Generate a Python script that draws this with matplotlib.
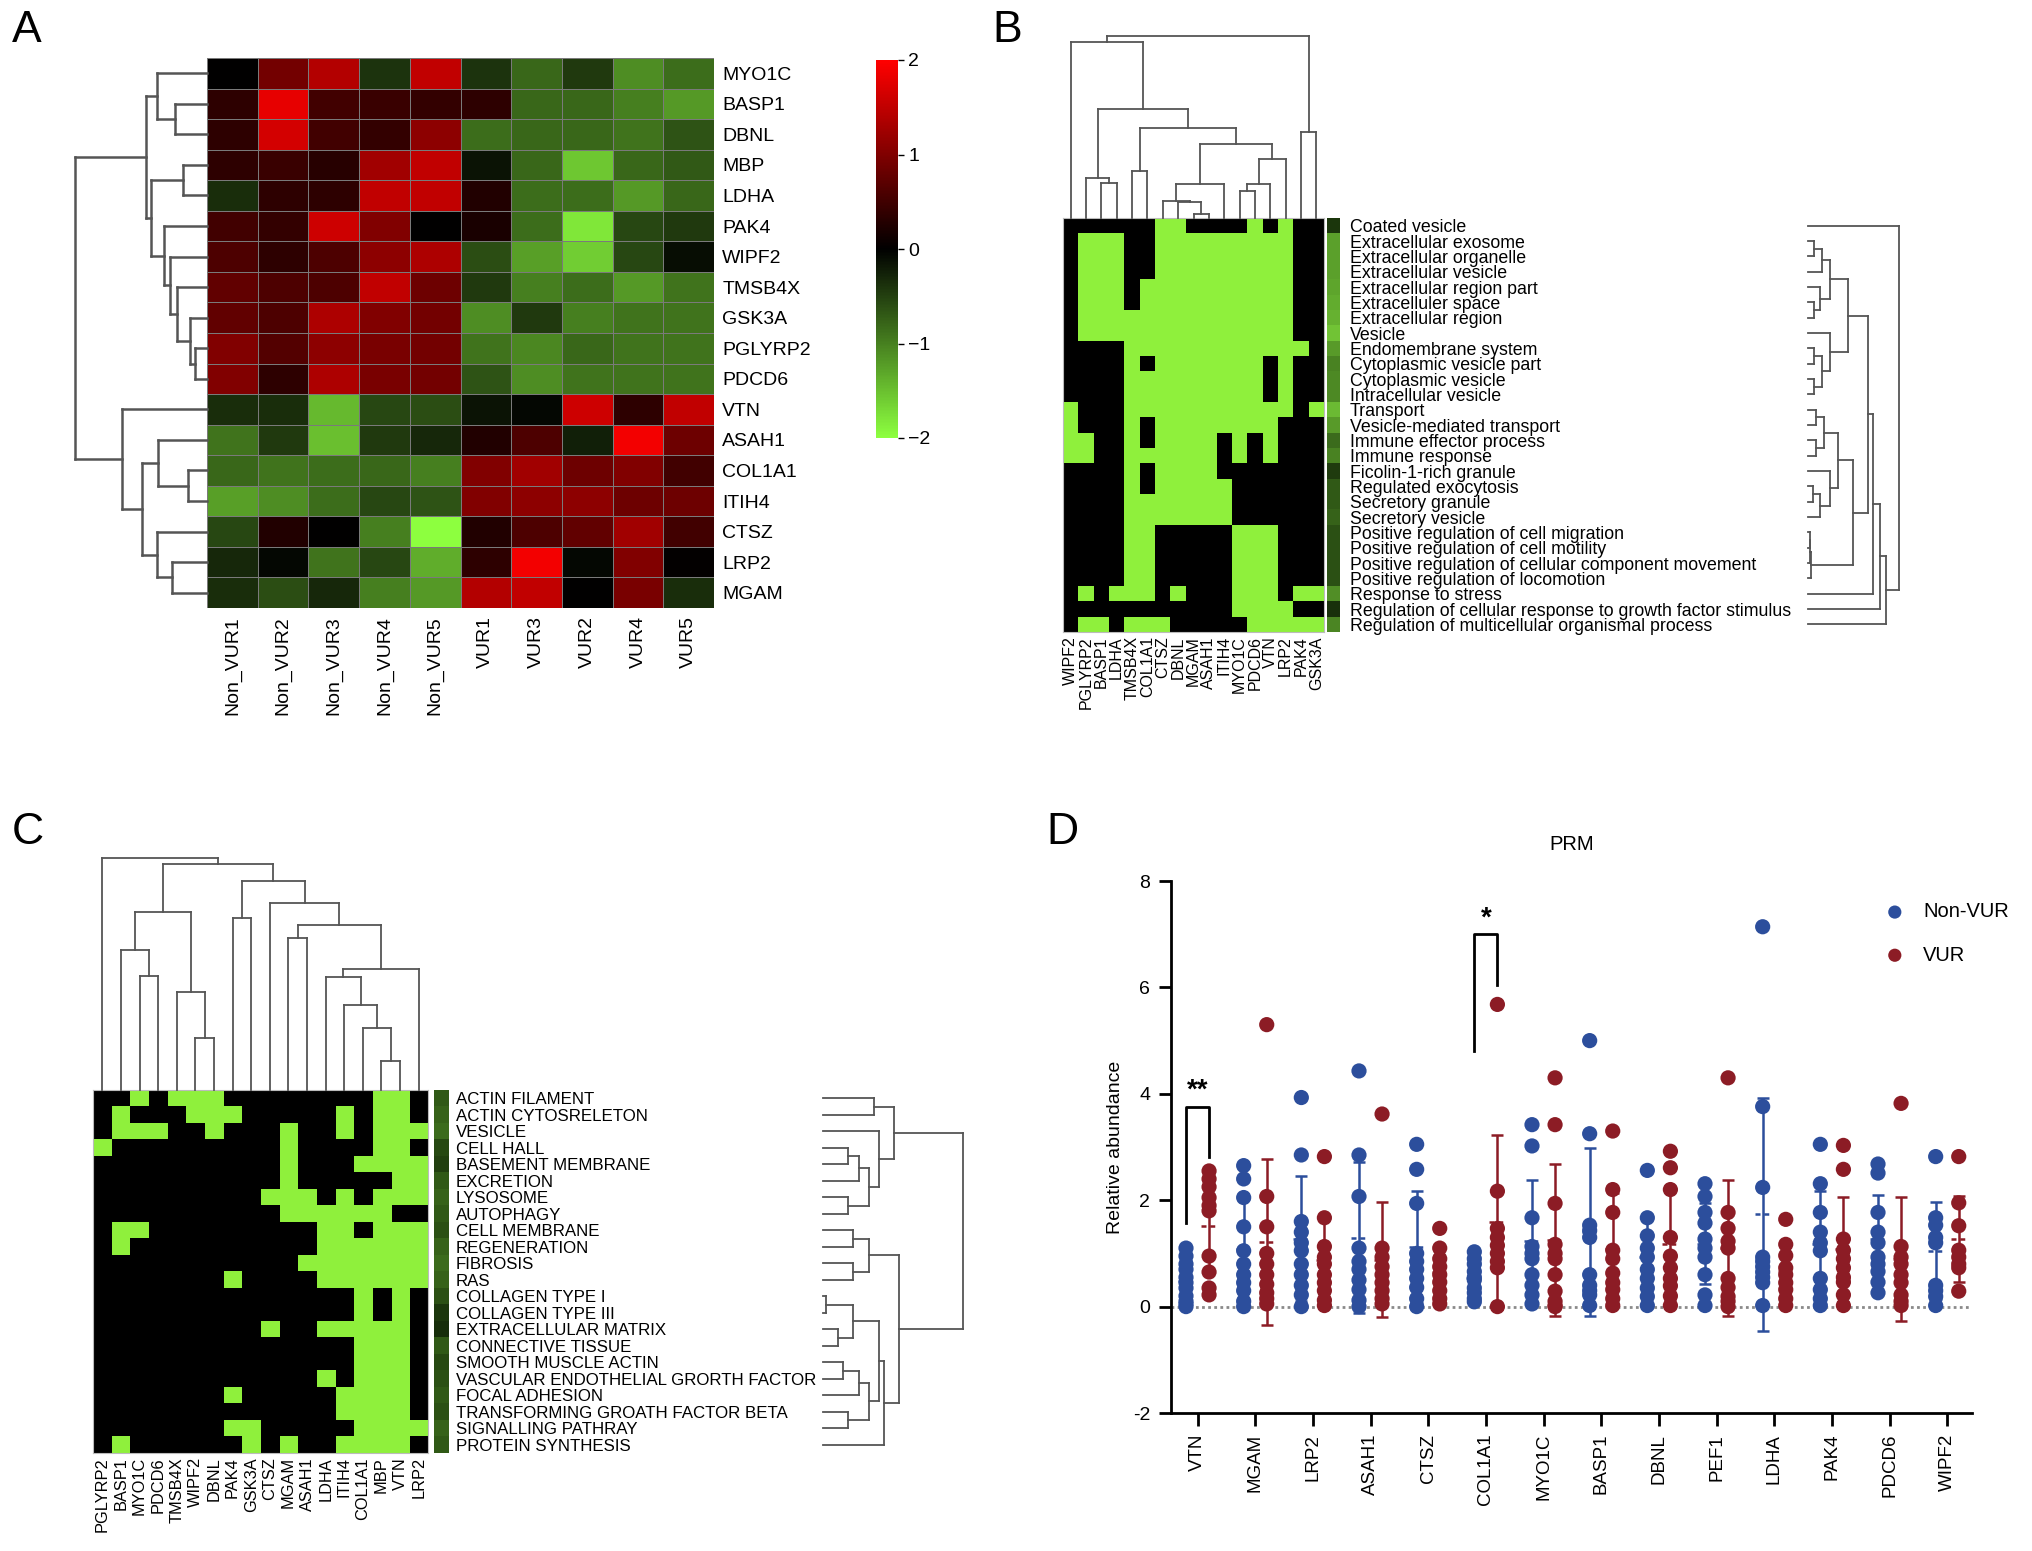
"""Four-panel figure: expression heatmap, two gene/term binary maps, and PRM dot plot."""
import numpy as np
import matplotlib
matplotlib.use("Agg")
import matplotlib.pyplot as plt
from matplotlib.colors import LinearSegmentedColormap, ListedColormap

plt.rcParams["font.family"] = ["Liberation Sans", "DejaVu Sans"]

W, H = 2032, 1551

# ---------------- panel A data ----------------
a_genes = ["MYO1C", "BASP1", "DBNL", "MBP", "LDHA", "PAK4", "WIPF2", "TMSB4X", "GSK3A",
           "PGLYRP2", "PDCD6", "VTN", "ASAH1", "COL1A1", "ITIH4", "CTSZ", "LRP2", "MGAM"]
a_samples = ["Non_VUR1", "Non_VUR2", "Non_VUR3", "Non_VUR4", "Non_VUR5",
             "VUR1", "VUR3", "VUR2", "VUR4", "VUR5"]
a_values = [
    [0.0, 0.9, 1.4, -0.4, 1.5, -0.4, -0.8, -0.45, -1.1, -0.85],
    [0.35, 1.8, 0.5, 0.45, 0.4, 0.35, -0.8, -0.8, -1.0, -1.2],
    [0.35, 1.65, 0.5, 0.4, 1.1, -0.85, -0.8, -0.8, -0.9, -0.65],
    [0.35, 0.45, 0.3, 1.25, 1.5, -0.15, -0.8, -1.55, -0.8, -0.7],
    [-0.35, 0.35, 0.35, 1.5, 1.5, 0.25, -0.85, -0.85, -1.2, -0.8],
    [0.5, 0.4, 1.6, 1.0, 0.0, 0.2, -0.85, -1.8, -0.55, -0.45],
    [0.6, 0.35, 0.6, 1.1, 1.35, -0.6, -1.25, -1.6, -0.55, -0.1],
    [0.75, 0.6, 0.6, 1.5, 0.85, -0.45, -1.0, -0.85, -1.2, -0.9],
    [0.75, 0.6, 1.35, 1.0, 0.9, -1.1, -0.45, -1.0, -0.9, -0.9],
    [1.0, 0.65, 1.1, 0.95, 0.9, -0.9, -1.05, -0.8, -0.9, -0.9],
    [1.0, 0.35, 1.35, 0.95, 0.9, -0.65, -1.1, -0.9, -0.9, -0.9],
    [-0.35, -0.35, -1.45, -0.55, -0.6, -0.15, -0.05, 1.6, 0.35, 1.5],
    [-0.9, -0.45, -1.5, -0.45, -0.3, 0.25, 0.6, -0.25, 1.9, 0.85],
    [-0.8, -0.9, -0.85, -0.8, -1.0, 1.0, 1.25, 0.85, 1.0, 0.5],
    [-1.25, -1.1, -0.85, -0.55, -0.65, 1.0, 1.1, 1.1, 0.85, 0.85],
    [-0.55, 0.25, 0.0, -1.0, -2.0, 0.25, 0.6, 0.75, 1.25, 0.5],
    [-0.3, -0.05, -0.9, -0.55, -1.35, 0.35, 1.9, -0.05, 1.0, 0.02],
    [-0.35, -0.6, -0.3, -1.0, -1.2, 1.4, 1.5, 0.0, 0.95, -0.35],
]
# row dendrogram: (left, right, merge height)
a_tree = (
    ((0, (1, 2, 75), 115),
     ((3, 4, 55), (5, (6, (7, (8, (9, 10, 27), 40), 70), 85), 100), 130), 140),
    (11, ((12, (13, 14, 45), 113), (15, (16, 17, 80), 115), 150), 197),
    305)

# ---------------- panel B data ----------------
b_genes = ["WIPF2", "PGLYRP2", "BASP1", "LDHA", "TMSB4X", "COL1A1", "CTSZ", "DBNL", "MGAM",
           "ASAH1", "ITIH4", "MYO1C", "PDCD6", "VTN", "LRP2", "PAK4", "GSK3A"]
b_terms = ["Coated vesicle", "Extracellular exosome", "Extracellular organelle",
           "Extracellular vesicle", "Extracellular region part", "Extracelluler space",
           "Extracellular region", "Vesicle", "Endomembrane system", "Cytoplasmic vesicle part",
           "Cytoplasmic vesicle", "Intracellular vesicle", "Transport", "Vesicle-mediated transport",
           "Immune effector process", "Immune response", "Ficolin-1-rich granule",
           "Regulated exocytosis", "Secretory granule", "Secretory vesicle",
           "Positive regulation of cell migration", "Positive regulation of cell motility",
           "Positive regulation of cellular component movement", "Positive regulation of locomotion",
           "Response to stress", "Regulation of cellular response to growth factor stimulus",
           "Regulation of multicellular organismal process"]
# K = black (absent), G = green (present)
b_matrix = [
    "KKKKKKGGKKKKGKGKK", "KGGGKKGGGGGGGGGKK", "KGGGKKGGGGGGGGGKK", "KGGGKKGGGGGGGGGKK",
    "KGGGKGGGGGGGGGGKK", "KGGGKGGGGGGGGGGKK", "KGGGGGGGGGGGGGGKK", "KGGGGGGGGGGGGGGKK",
    "KKKKGGGGGGGGGGGGK", "KKKKGKGGGGGGGKGKK", "KKKKGGGGGGGGGKGKK", "KKKKGGGGGGGGGKGKK",
    "GKKKGGGGGGGGGGGKG", "GKKKGKGGGGGGGGKKK", "GGKKGKGGGGKGKGKKK", "GGKKGGGGGGKGKGKKK",
    "KKKKGKGGGGKKKKKKK", "KKKKGKGGGGGKKKKKK", "KKKKGGGGGGGKKKKKK", "KKKKGGGGGGGKKKKKK",
    "KKKKGGKKKKKGGGKKK", "KKKKGGKKKKKGGGKKK", "KKKKGGKKKKKGGGKKK", "KKKKGGKKKKKGGGKKK",
    "KGKGGGKGKKKGGGKGG", "KKKKKKKKKKKGGGGKK", "KGGKGGGKKKKKGGGGG",
]
b_annot = [0.15, 0.75, 0.75, 0.75, 0.78, 0.82, 0.85, 0.95, 0.72, 0.58, 0.62, 0.62, 0.9, 0.72,
           0.45, 0.58, 0.18, 0.35, 0.35, 0.4, 0.3, 0.3, 0.3, 0.3, 0.65, 0.12, 0.6]
b_col_tree = (
    (0, ((1, (2, 3, 103), 120),
         ((4, 5, 140),
          (((6, (7, (8, 9, 12), 48), 50), 10, 100), (((11, 12, 80), 13, 102), 14, 175), 220),
          268), 325), 525),
    (15, 16, 255),
    542)
b_ext = ((((1, 2, 6), 3, 14), (4, (5, 6, 6), 12), 22), (7, ((8, 9, 6), (10, 11, 6), 14), 22), 40)
b_sec = ((((12, 13, 8), (14, 15, 8), 16), (16, ((17, 18, 5), 19, 12), 22), 30),
         (((20, 21, 2), 22, 2), 23, 3), 45)
b_row_tree = (0, ((((b_ext, b_sec, 60), 24, 65), 25, 72), 26, 78), 91)

# ---------------- panel C data ----------------
c_genes = ["PGLYRP2", "BASP1", "MYO1C", "PDCD6", "TMSB4X", "WIPF2", "DBNL", "PAK4", "GSK3A",
           "CTSZ", "MGAM", "ASAH1", "LDHA", "ITIH4", "COL1A1", "MBP", "VTN", "LRP2"]
c_terms = ["ACTIN FILAMENT", "ACTIN CYTOSRELETON", "VESICLE", "CELL HALL", "BASEMENT MEMBRANE",
           "EXCRETION", "LYSOSOME", "AUTOPHAGY", "CELL MEMBRANE", "REGENERATION", "FIBROSIS", "RAS",
           "COLLAGEN TYPE I", "COLLAGEN TYPE III", "EXTRACELLULAR MATRIX", "CONNECTIVE TISSUE",
           "SMOOTH MUSCLE ACTIN", "VASCULAR ENDOTHELIAL GRORTH FACTOR", "FOCAL ADHESION",
           "TRANSFORMING GROATH FACTOR BETA", "SIGNALLING PATHRAY", "PROTEIN SYNTHESIS"]
c_matrix = [
    "KKGKGGGKKKKKKKKGGK", "KGKKKGGGKKKKKGKGGK", "KGGGKKGKKKGKKGKGGG", "GKKKKKKKKKGKKKKGGK",
    "KKKKKKKKKKGKKKGGGG", "KKKKKKKKKKGKKKKKGG", "KKKKKKKKKGGGKGKGGG", "KKKKKKKKKKGGGGGGKK",
    "KGGKKKKKKKKKGGKGGG", "KGKKKKKKKKKKGGGGGG", "KKKKKKKKKKKGGGGGGG", "KKKKKKKGKKKKGGGGGG",
    "KKKKKKKKKKKKKKGKGK", "KKKKKKKKKKKKKKGKGK", "KKKKKKKKKGKKGGGGGK", "KKKKKKKKKKKKKKGGGK",
    "KKKKKKKKKKKKKKGGGK", "KKKKKKKKKKKKGKGGGK", "KKKKKKKGKKKKKGGGGK", "KKKKKKKKKKKKKGGGGK",
    "KKKKKKKGGKKKKKGGGG", "KGKKKKKKGKGKKGGGGK",
]
c_annot = [0.35, 0.4, 0.45, 0.25, 0.2, 0.35, 0.4, 0.35, 0.3, 0.4, 0.45, 0.4, 0.3, 0.15, 0.1,
           0.35, 0.25, 0.3, 0.35, 0.3, 0.4, 0.35]
c_col_tree = (0, (((1, (2, 3, 340), 417), (4, (5, 6, 155), 290), 530),
                  ((7, 8, 513),
                   (9, ((10, 11, 452), ((12, (13, (14, (15, 16, 87), 185), 253), 335), 17, 360),
                        490), 557), 623), 673), 690)
c_top = ((0, 1, 50), (2, (((3, 4, 25), 5, 35), (6, 7, 25), 45), 55), 70)
c_mid = ((8, 9, 30), (10, 11, 30), 45)
c_low = (((((12, 13, 3), (14, 15, 15), 30), (((16, 17, 20), 18, 35), (19, 20, 25), 45), 55), 21, 60))
c_row_tree = (c_top, (c_mid, c_low, 75), 138)

# ---------------- panel D data ----------------
d_genes = ["VTN", "MGAM", "LRP2", "ASAH1", "CTSZ", "COL1A1", "MYO1C", "BASP1", "DBNL", "PEF1",
           "LDHA", "PAK4", "PDCD6", "WIPF2"]
d_non_vur = [
    [1.1, 0.95, 0.8, 0.7, 0.55, 0.45, 0.35, 0.2, 0.1, 0.05, 0.0],
    [2.65, 2.4, 2.05, 1.5, 1.05, 0.8, 0.6, 0.45, 0.3, 0.1, 0.0],
    [3.93, 2.85, 1.6, 1.4, 1.2, 1.05, 0.8, 0.6, 0.4, 0.22, 0.0],
    [4.43, 2.85, 2.07, 1.1, 0.85, 0.7, 0.5, 0.32, 0.12, 0.0],
    [3.05, 2.58, 1.94, 1.0, 0.85, 0.7, 0.53, 0.36, 0.15, 0.0],
    [1.03, 0.9, 0.8, 0.66, 0.55, 0.5, 0.35, 0.26, 0.15, 0.09],
    [3.42, 3.02, 1.67, 1.13, 1.0, 0.9, 0.6, 0.4, 0.22, 0.05],
    [5.0, 3.25, 1.53, 1.43, 1.3, 0.6, 0.4, 0.3, 0.22, 0.02],
    [2.56, 1.67, 1.33, 1.1, 0.93, 0.7, 0.53, 0.35, 0.19, 0.02],
    [2.31, 2.07, 1.77, 1.57, 1.27, 1.1, 0.93, 0.6, 0.22, 0.02],
    [7.14, 3.76, 2.24, 0.93, 0.85, 0.75, 0.65, 0.55, 0.45, 0.02],
    [3.05, 2.31, 1.77, 1.4, 1.2, 1.05, 0.53, 0.32, 0.15, 0.02],
    [2.68, 2.51, 1.77, 1.4, 1.2, 0.93, 0.8, 0.66, 0.46, 0.26],
    [2.82, 1.67, 1.53, 1.3, 1.2, 0.4, 0.3, 0.19, 0.02],
]
d_vur = [
    [2.55, 2.4, 2.25, 2.05, 1.9, 1.8, 0.95, 0.65, 0.35, 0.22],
    [5.3, 2.07, 1.5, 1.0, 0.8, 0.6, 0.42, 0.26, 0.15, 0.05],
    [2.82, 1.67, 1.13, 0.93, 0.8, 0.6, 0.45, 0.3, 0.12, 0.02],
    [3.62, 1.1, 0.93, 0.75, 0.6, 0.45, 0.3, 0.15, 0.05],
    [1.47, 1.1, 0.9, 0.75, 0.6, 0.46, 0.3, 0.15, 0.05],
    [5.68, 2.17, 1.47, 1.3, 1.15, 1.0, 0.85, 0.73, 0.0],
    [4.3, 3.42, 1.94, 1.17, 1.0, 0.9, 0.6, 0.29, 0.1, 0.02, 0.0],
    [3.3, 2.2, 1.77, 1.06, 0.9, 0.63, 0.45, 0.32, 0.15, 0.02],
    [2.92, 2.61, 2.2, 1.3, 0.95, 0.73, 0.53, 0.39, 0.2, 0.02],
    [4.3, 1.77, 1.47, 1.23, 1.1, 0.53, 0.36, 0.19, 0.1, 0.0],
    [1.64, 1.17, 0.96, 0.73, 0.6, 0.45, 0.32, 0.15, 0.02],
    [3.03, 2.58, 1.27, 1.06, 0.9, 0.73, 0.55, 0.46, 0.22, 0.02],
    [3.82, 1.13, 0.93, 0.8, 0.6, 0.45, 0.22, 0.1, 0.02],
    [2.82, 1.95, 1.52, 1.06, 0.93, 0.8, 0.73, 0.29],
]
# significance brackets: gene index, left foot, bar height, right foot, label, label height
d_sig = [(0, 1.57, 3.76, 2.82, "**", 3.82), (5, 4.8, 7.0, 6.05, "*", 7.05)]

BLUE, RED = "#2c4e9c", "#8c1c25"
LIME = "#8ff03c"
DGRAY = "#555555"


def px_axes(fig, x0, y0, x1, y1):
    return fig.add_axes([x0 / W, 1 - y1 / H, (x1 - x0) / W, (y1 - y0) / H])


def draw_dendro(ax, tree, n, side, top, color=DGRAY, lw=1.5):
    segs = []

    def rec(t):
        if isinstance(t, int):
            return float(t), 0.0
        l, r, h = t
        pl, hl = rec(l)
        pr, hr = rec(r)
        segs.append(((pl, pl), (hl, h)))
        segs.append(((pl, pr), (h, h)))
        segs.append(((pr, pr), (hr, h)))
        return (pl + pr) / 2, h

    rec(tree)
    for pos, hgt in segs:
        if side == "top":
            ax.plot(pos, hgt, color=color, lw=lw, clip_on=False, solid_capstyle="projecting")
        else:
            ax.plot(hgt, pos, color=color, lw=lw, clip_on=False, solid_capstyle="projecting")
    if side == "top":
        ax.set_xlim(-0.5, n - 0.5); ax.set_ylim(0, top)
    elif side == "left":
        ax.set_xlim(top, 0); ax.set_ylim(n - 0.5, -0.5)
    else:
        ax.set_xlim(0, top); ax.set_ylim(n - 0.5, -0.5)
    ax.axis("off")


def binary(rows):
    return np.array([[1 if ch == "G" else 0 for ch in r] for r in rows])


fig = plt.figure(figsize=(W / 100, H / 100), dpi=100)

# ---------------- A ----------------
cmap_a = LinearSegmentedColormap.from_list("gkr", ["#8dff3f", "#000000", "#ff0000"])
ax = px_axes(fig, 207, 58, 714, 608)
vals = np.array(a_values)
mesh = ax.pcolormesh(np.arange(len(a_samples) + 1) - 0.5, np.arange(len(a_genes) + 1) - 0.5, vals,
                     cmap=cmap_a, vmin=-2, vmax=2, edgecolors="#7a7a7a", linewidth=0.4)
ax.set_ylim(len(a_genes) - 0.5, -0.5)
ax.set_xlim(-0.5, len(a_samples) - 0.5)
ax.yaxis.tick_right()
ax.set_yticks(range(len(a_genes)), a_genes, fontsize=14)
ax.set_xticks(range(len(a_samples)), a_samples, rotation=90, fontsize=14)
ax.tick_params(length=0, pad=6)
for s in ax.spines.values():
    s.set_visible(False)

ax_d = px_axes(fig, 75, 58, 207, 608)
draw_dendro(ax_d, a_tree, len(a_genes), "left", 305, lw=1.8)

cax = px_axes(fig, 876, 60, 898, 438)
cb = fig.colorbar(mesh, cax=cax, ticks=[-2, -1, 0, 1, 2])
cb.outline.set_visible(False)
cb.ax.tick_params(labelsize=14, length=4, width=1)

# ---------------- B ----------------
cmap_bin = ListedColormap(["#000000", LIME])
cmap_ann = LinearSegmentedColormap.from_list("ann", ["#0c1c05", "#76cc38"])
ax = px_axes(fig, 1063, 218, 1324, 632)
ax.imshow(binary(b_matrix), cmap=cmap_bin, aspect="auto", interpolation="nearest")
ax.set_xticks(range(len(b_genes)), b_genes, rotation=90, fontsize=11.5)
ax.set_yticks([])
ax.tick_params(length=0, pad=3)
for s in ax.spines.values():
    s.set_color("#bbbbbb")

ax = px_axes(fig, 1327, 218, 1340, 632)
ax.imshow(np.array(b_annot)[:, None], cmap=cmap_ann, vmin=0, vmax=1, aspect="auto",
          interpolation="nearest")
ax.set_xticks([])
ax.yaxis.tick_right()
ax.set_yticks(range(len(b_terms)), b_terms, fontsize=12.8)
ax.tick_params(length=0, pad=7)
for s in ax.spines.values():
    s.set_visible(False)

draw_dendro(px_axes(fig, 1063, 36, 1324, 218), b_col_tree, len(b_genes), "top", 542, lw=1.3)
draw_dendro(px_axes(fig, 1808, 218, 1899, 632), b_row_tree, len(b_terms), "right", 91, lw=1.3)

# ---------------- C ----------------
ax = px_axes(fig, 93, 1090, 428, 1453)
ax.imshow(binary(c_matrix), cmap=cmap_bin, aspect="auto", interpolation="nearest")
ax.set_xticks(range(len(c_genes)), c_genes, rotation=90, fontsize=11.8)
ax.set_yticks([])
ax.tick_params(length=0, pad=3)
for s in ax.spines.values():
    s.set_color("#bbbbbb")

ax = px_axes(fig, 434, 1090, 449, 1453)
ax.imshow(np.array(c_annot)[:, None], cmap=cmap_ann, vmin=0, vmax=1, aspect="auto",
          interpolation="nearest")
ax.set_xticks([])
ax.yaxis.tick_right()
ax.set_yticks(range(len(c_terms)), c_terms, fontsize=12.2)
ax.tick_params(length=0, pad=5)
for s in ax.spines.values():
    s.set_visible(False)

draw_dendro(px_axes(fig, 93, 858, 428, 1090), c_col_tree, len(c_genes), "top", 690, lw=1.3)
draw_dendro(px_axes(fig, 823, 1090, 963, 1453), c_row_tree, len(c_terms), "right", 138, lw=1.3)

# ---------------- D ----------------
ax = px_axes(fig, 1171, 881, 1972, 1413)
ax.axhline(0, color="#8a8a8a", ls=(0, (1, 1.2)), lw=2, zorder=1)
for i, (nv, v) in enumerate(zip(d_non_vur, d_vur)):
    for vals, dx, col in ((nv, -0.2, BLUE), (v, 0.2, RED)):
        x = i + dx
        m, sd = np.mean(vals), np.std(vals, ddof=1)
        ax.errorbar(x, m, yerr=sd, fmt="none", ecolor=col, elinewidth=1.8, capsize=4,
                    capthick=1.8, zorder=2)
        ax.hlines(m, x - 0.14, x + 0.14, colors=col, linestyles=(0, (2, 1.5)), lw=1.8, zorder=4)
        ax.scatter(np.full(len(vals), x), vals, s=120, color=col, edgecolors="none", zorder=3)
for i, y0, ytop, y1, lab, ylab in d_sig:
    ax.plot([i - 0.2, i - 0.2, i + 0.2, i + 0.2], [y0, ytop, ytop, y1], color="black", lw=2)
    ax.text(i, ylab, lab, ha="center", va="bottom", fontsize=20, fontweight="bold")
ax.set_xlim(-0.46, len(d_genes) - 0.57)
ax.set_ylim(-2, 8)
ax.set_yticks([-2, 0, 2, 4, 6, 8], ["-2", "0", "2", "4", "6", "8"], fontsize=14)
ax.set_xticks(range(len(d_genes)), d_genes, rotation=90, fontsize=13.5)
ax.tick_params(direction="out", length=9, width=2, pad=6)
for s in ("top", "right"):
    ax.spines[s].set_visible(False)
for s in ("left", "bottom"):
    ax.spines[s].set_linewidth(2)
ax.set_ylabel("Relative abundance", fontsize=14, labelpad=6)
ax.set_title("PRM", fontsize=14.5, pad=22)
hb = ax.scatter([], [], s=90, color=BLUE, edgecolors="none")
hr = ax.scatter([], [], s=90, color=RED, edgecolors="none")
ax.legend([hb, hr], ["Non-VUR", "VUR"], loc="upper left", bbox_to_anchor=(0.881, 0.975),
          frameon=False, fontsize=14.5, handlelength=1.0, handletextpad=0.9, labelspacing=1.2,
          borderaxespad=0)

# ---------------- panel letters ----------------
for lab, x, y in (("A", 12, 10), ("B", 992, 10), ("C", 12, 812), ("D", 1046, 812)):
    fig.text(x / W, 1 - y / H, lab, fontsize=32, va="top", ha="left")

fig.savefig("out.png", dpi=100)
print("wrote out.png")
